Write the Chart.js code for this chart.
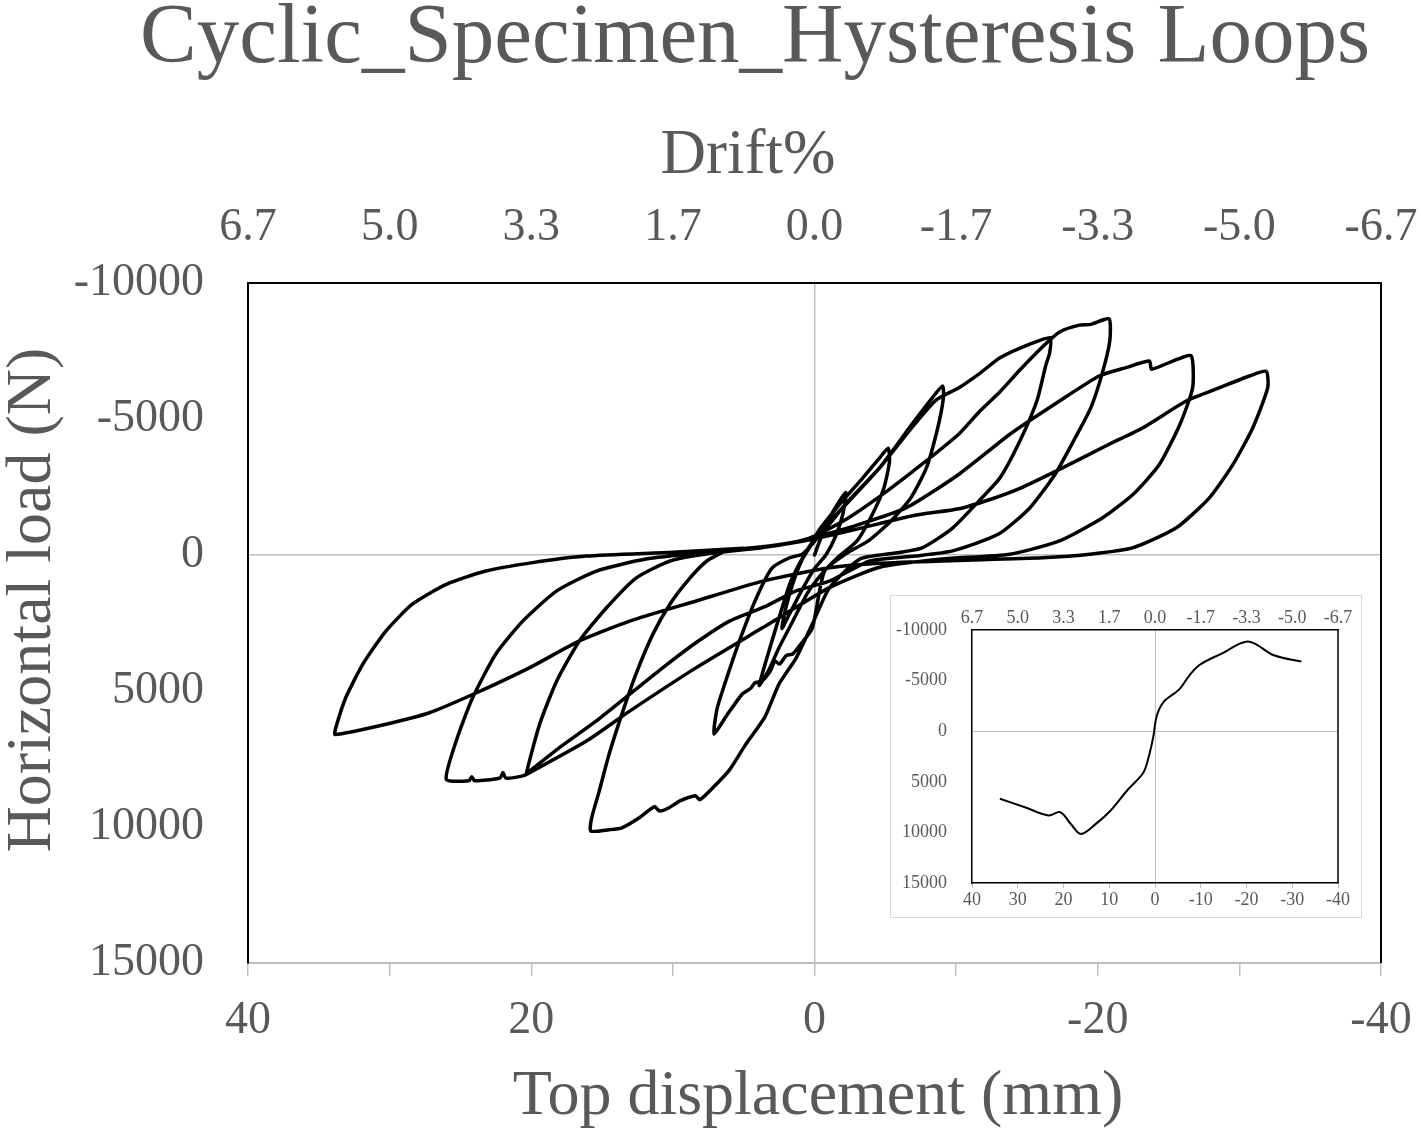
<!DOCTYPE html>
<html lang="en">
<head>
<meta charset="UTF-8">
<title>Cyclic_Specimen_Hysteresis Loops</title>
<script src="https://cdn.jsdelivr.net/npm/chart.js"></script>
<style>
    body { margin: 0; background: #fff; }
    #wrap { position: relative; width: 1421px; height: 1132px; }
    #mainChart { position: absolute; left: 0; top: 0; }
    #insetBox {
        position: absolute; left: 890px; top: 595px;
        width: 470px; height: 321px;
        background: #fff; border: 1px solid #d9d9d9;
    }
</style>
</head>
<body>
<div id="wrap">
    <canvas id="mainChart" width="1421" height="1132"></canvas>
    <div id="insetBox"><canvas id="insetChart" width="470" height="321"></canvas></div>
</div>

<script>
const dispMm = [
    // first small cycle
    0, -0.5, -1.2, -2.2, -2.0, -1.5, -0.8, 0, 0.9, 1.7, 2.3, 2.0, 1.5, 0.9, 0.2,
    // cycle 1
    -0.3, -1.8, -3.4, -4.6, -5.2, -5.3, -4.9, -4.1, -3.0, -1.6, -0.5,
    0.5, 1.5, 2.5, 3.2, 3.9, 3.65, 3.2, 2.5, 1.7, 0.85, 0.1,
    // cycle 2
    -1.0, -2.2, -4.6, -6.9, -8.3, -9.05, -9.1, -8.7, -7.9, -6.8, -5.4, -3.8, -2.2, -0.7,
    0.15, 1.0, 1.55, 2.0, 2.47, 2.8, 3.1, 3.7, 4.2, 4.5, 5.1, 6.2, 7.1,
    6.9, 6.5, 5.3, 4.1, 3.0, 1.8, 0.85, 0,
    // cycle 3
    -1.0, -2.3, -4.6, -6.9, -8.6, -10.2, -11.6, -13.1, -15.2, -16.65,
    -16.6, -16.35, -15.7, -14.5, -13.1, -11.6, -9.75, -7.6, -5.7, -3.2, -1.05,
    0.15, 1.3, 2.5, 3.5, 4.9, 6.0, 7.2, 8.1, 8.4, 9.5, 10.3, 10.95, 11.3, 12.4, 13.6, 14.5, 15.8,
    15.75, 15.2, 14.5, 13.6, 12.6, 11.4, 10.2, 8.8, 7.6, 6.2, 3.2, 1.05, 0,
    // cycle 4
    -2.5, -5.0, -7.5, -10.2, -11.6, -13.1, -14.5, -16.2, -17.3, -18.7, -19.5, -20.8,
    -20.85, -20.3, -19.5, -18.4, -17.0, -15.2, -13.0, -9.75, -7.1, -3.9, -1.05,
    1.3, 3.5, 6.0, 8.3, 10.7, 13.0, 15.4, 17.8, 20.1, 20.35,
    19.4, 18.2, 16.6, 14.7, 12.6, 10.2, 7.2, 4.0, 1.5, 0,
    // cycle 5
    -3.0, -6.5, -10.2, -13.8, -17.3, -20.1, -22.0, -23.65, -23.8, -25.3, -26.6,
    -26.7, -25.8, -24.35, -22.5, -20.35, -17.3, -13.8, -9.0, -4.6, -1.05,
    3.65, 8.35, 13.05, 16.1, 20.1, 20.6, 21.8, 22.0, 22.2, 24.0, 24.2, 24.4, 26.0,
    25.3, 24.15, 22.5, 20.6, 18.2, 15.4, 11.9, 8.0, 4.0, 1.5, 0,
    // cycle 6
    -3.0, -7.0, -10.2, -12.45, -14.5, -17.3, -20.8, -23.2, -26.25, -28.6, -30.7, -31.9,
    -32.0, -30.95, -29.55, -27.9, -25.55, -22.5, -19.6, -16.1, -10.0, -4.6, -1.05,
    3.65, 8.35, 13.05, 16.6, 20.1, 24.1, 27.2, 30.25, 33.85,
    33.8, 33.1, 31.9, 30.25, 28.4, 26.0, 23.2, 19.9, 16.1, 10.0, 5.0
];
const loadN = [
    0, -700, -1500, -2300, -1500, -700, 0, 500, 1300, 2100, 2700, 1900, 1000, 200, -400,
    -900, -1880, -2830, -3570, -3930, -3450, -2460, -1510, -520, 110, 700,
    1400, 2400, 3400, 4200, 4800, 4300, 3500, 2300, 1000, 110, -500,
    -1100, -1880, -3210, -4820, -5770, -6210, -5770, -4670, -3200, -2100, -1250, -520, -40, 600,
    2680, 3300, 3640, 3700, 4010, 3900, 4250, 4630, 4700, 4900, 5110, 5900, 6580,
    5700, 5000, 3160, 1570, 480, 110, -40, -500,
    -1200, -1900, -3200, -4700, -5700, -6150, -6650, -7250, -7750, -7990,
    -7420, -7010, -5660, -4190, -2840, -1980, -990, -260, -70, 150, 1210,
    2540, 3790, 4740, 5950, 7000, 7900, 8570, 9000, 8850, 9040, 9300, 9410, 9250, 9670, 10030, 10100, 10150,
    9700, 8680, 7320, 5850, 4370, 2900, 1800, 850, 220, -150, -330, -520, -700,
    -1400, -2300, -3300, -4450, -5250, -6000, -6800, -7700, -8200, -8450, -8480, -8680,
    -7870, -6650, -5400, -4300, -2980, -1730, -770, -150, 40, 220, 960,
    1320, 1900, 2430, 3200, 4140, 5100, 6100, 7000, 7940, 8050,
    6210, 4630, 3160, 1950, 850, 220, -70, -250, -450, -650,
    -1100, -1740, -2970, -4440, -5660, -6580, -6890, -7130, -6830, -7130, -7320,
    -6150, -4800, -3330, -2230, -1370, -520, -30, 150, 450, 1200,
    2670, 4140, 5740, 6840, 8000, 8120, 8200, 8000, 8200, 8300, 8150, 8300, 8250,
    6840, 5260, 3640, 2430, 1320, 590, 150, -80, -260, -450, -600,
    -950, -1450, -1700, -2050, -2450, -3150, -4070, -4680, -5660, -6150, -6580, -6750,
    -6150, -4680, -3330, -2110, -1000, -270, -40, 100, 200, 300, 470,
    960, 1690, 2430, 3160, 4140, 5120, 5800, 6220, 6600,
    6350, 5250, 4020, 2790, 1810, 1080, 590, 280, 40, -100, -250
];

// Envelope curve shown in the inset
const envDispMm = [33.9, 28.6, 23.3, 20.7, 18.4, 16.2, 12.8, 9.8, 6.0, 2.6, 1.5, 0.4,
    -0.4, -1.9, -5.3, -7.5, -9.8, -15.1, -18.1, -20.3, -22.2, -26.0, -32.0];
const envLoadN = [6670, 7490, 8320, 8010, 9170, 10150, 9110, 7890, 5810, 4130, 2750, 610,
    -1530, -2900, -4130, -5500, -6570, -7800, -8560, -8870, -8560, -7500, -6880];

// Drift% labels of the top axis, at these displacements
const driftTickVals = [40, 30, 20, 10, 0, -10, -20, -30, -40];
const driftTickLabels = ['6.7', '5.0', '3.3', '1.7', '0.0', '-1.7', '-3.3', '-5.0', '-6.7'];

const SERIF = '"Liberation Serif", "Times New Roman", serif';
const TEXT = '#595959';
const ZERO_LINE = '#bfbfbf';
const NONE = 'rgba(0,0,0,0)';

const loopPoints = dispMm.map((x, i) => ({ x: x, y: loadN[i] }));
const envPoints = envDispMm.map((x, i) => ({ x: x, y: envLoadN[i] }));

const zeroGrid = c => (c.tick && c.tick.value === 0 ? ZERO_LINE : NONE);
const driftLabel = v => {
    const i = driftTickVals.indexOf(v);
    return i < 0 ? '' : driftTickLabels[i];
};

// right side of the plot frame (no axis there)
const rightEdge = {
    id: 'rightEdge',
    beforeDatasetsDraw(chart, args, opts) {
        const { ctx, chartArea: a } = chart;
        ctx.save();
        ctx.strokeStyle = '#000';
        ctx.lineWidth = opts.width || 2;
        ctx.beginPath();
        ctx.moveTo(a.right, a.top);
        ctx.lineTo(a.right, a.bottom);
        ctx.stroke();
        ctx.restore();
    }
};

// titles of the main chart
const mainTexts = {
    id: 'mainTexts',
    afterDraw(chart) {
        const ctx = chart.ctx;
        ctx.save();
        ctx.fillStyle = TEXT;
        ctx.textAlign = 'center';
        ctx.textBaseline = 'alphabetic';
        ctx.font = '85px ' + SERIF;
        ctx.fillText('Cyclic_Specimen_Hysteresis Loops', 755, 62);
        ctx.font = '63px ' + SERIF;
        ctx.fillText('Drift%', 748, 173);
        ctx.font = '64px ' + SERIF;
        ctx.fillText('Top displacement (mm)', 818, 1114);
        ctx.translate(50, 600);
        ctx.rotate(-Math.PI / 2);
        ctx.fillText('Horizontal load (N)', 0, 0);
        ctx.restore();
    }
};

new Chart(document.getElementById('mainChart'), {
    type: 'scatter',
    data: {
        datasets: [{
            data: loopPoints,
            showLine: true,
            borderColor: '#000',
            borderWidth: 3.5,
            borderJoinStyle: 'round',
            borderCapStyle: 'round',
            pointRadius: 0,
            tension: 0.2,
            fill: false
        }]
    },
    options: {
        responsive: false,
        animation: false,
        events: [],
        layout: { padding: { left: 0, right: 40, top: 0, bottom: 0 }, autoPadding: false },
        plugins: { legend: { display: false }, tooltip: { enabled: false }, rightEdge: { width: 2 } },
        scales: {
            x: {
                type: 'linear', position: 'bottom', reverse: true, min: -40, max: 40,
                afterFit: s => { s.height = 169; },
                ticks: {
                    stepSize: 10, autoSkip: false, maxRotation: 0, padding: 0,
                    color: TEXT, font: { family: SERIF, size: 46, lineHeight: 1.96 },
                    callback: v => (v % 20 === 0 ? String(v) : '')
                },
                grid: { color: zeroGrid, lineWidth: 1.5, tickColor: ZERO_LINE, tickLength: 13 },
                border: { color: ZERO_LINE, width: 2 }
            },
            x2: {
                type: 'linear', position: 'top', reverse: true, min: -40, max: 40,
                afterFit: s => { s.height = 283; },
                ticks: {
                    stepSize: 10, autoSkip: false, maxRotation: 0, padding: 0,
                    color: TEXT, font: { family: SERIF, size: 46, lineHeight: 2.39 },
                    callback: driftLabel
                },
                grid: { drawOnChartArea: false, drawTicks: false, color: NONE },
                border: { color: '#000', width: 2 }
            },
            y: {
                type: 'linear', position: 'left', reverse: true, min: -10000, max: 15000,
                afterFit: s => { s.width = 248; },
                ticks: {
                    stepSize: 5000, padding: 44,
                    color: TEXT, font: { family: SERIF, size: 46, lineHeight: 1 },
                    callback: v => String(v)
                },
                grid: { color: zeroGrid, lineWidth: 1.5, drawTicks: false },
                border: { color: '#000', width: 2 }
            }
        }
    },
    plugins: [rightEdge, mainTexts]
});

new Chart(document.getElementById('insetChart'), {
    type: 'scatter',
    data: {
        datasets: [{
            data: envPoints,
            showLine: true,
            borderColor: '#000',
            borderWidth: 2,
            pointRadius: 0,
            tension: 0.35,
            fill: false
        }]
    },
    options: {
        responsive: false,
        animation: false,
        events: [],
        layout: { padding: { left: 0, right: 23, top: 0, bottom: 0 }, autoPadding: false },
        plugins: { legend: { display: false }, tooltip: { enabled: false }, rightEdge: { width: 1.5 } },
        scales: {
            x: {
                type: 'linear', position: 'bottom', reverse: true, min: -40, max: 40,
                afterFit: s => { s.height = 24; },
                ticks: {
                    stepSize: 10, autoSkip: false, maxRotation: 0, padding: 3,
                    color: TEXT, font: { family: SERIF, size: 18, lineHeight: 1 },
                    callback: v => String(v)
                },
                grid: { color: zeroGrid, lineWidth: 1, tickColor: ZERO_LINE, tickLength: 5 },
                border: { color: '#000', width: 1.5 }
            },
            x2: {
                type: 'linear', position: 'top', reverse: true, min: -40, max: 40,
                afterFit: s => { s.height = 23; },
                ticks: {
                    stepSize: 10, autoSkip: false, maxRotation: 0, padding: 3,
                    color: TEXT, font: { family: SERIF, size: 18, lineHeight: 1 },
                    callback: driftLabel
                },
                grid: { drawOnChartArea: false, drawTicks: false, color: NONE },
                border: { color: '#000', width: 1.5 }
            },
            y: {
                type: 'linear', position: 'left', reverse: true, min: -10000, max: 15000,
                afterFit: s => { s.width = 81; },
                ticks: {
                    stepSize: 5000, padding: 25,
                    color: TEXT, font: { family: SERIF, size: 18, lineHeight: 1 },
                    callback: v => String(v)
                },
                grid: { color: zeroGrid, lineWidth: 1, drawTicks: false },
                border: { color: '#000', width: 1.5 }
            }
        }
    },
    plugins: [rightEdge]
});
</script>
</body>
</html>
